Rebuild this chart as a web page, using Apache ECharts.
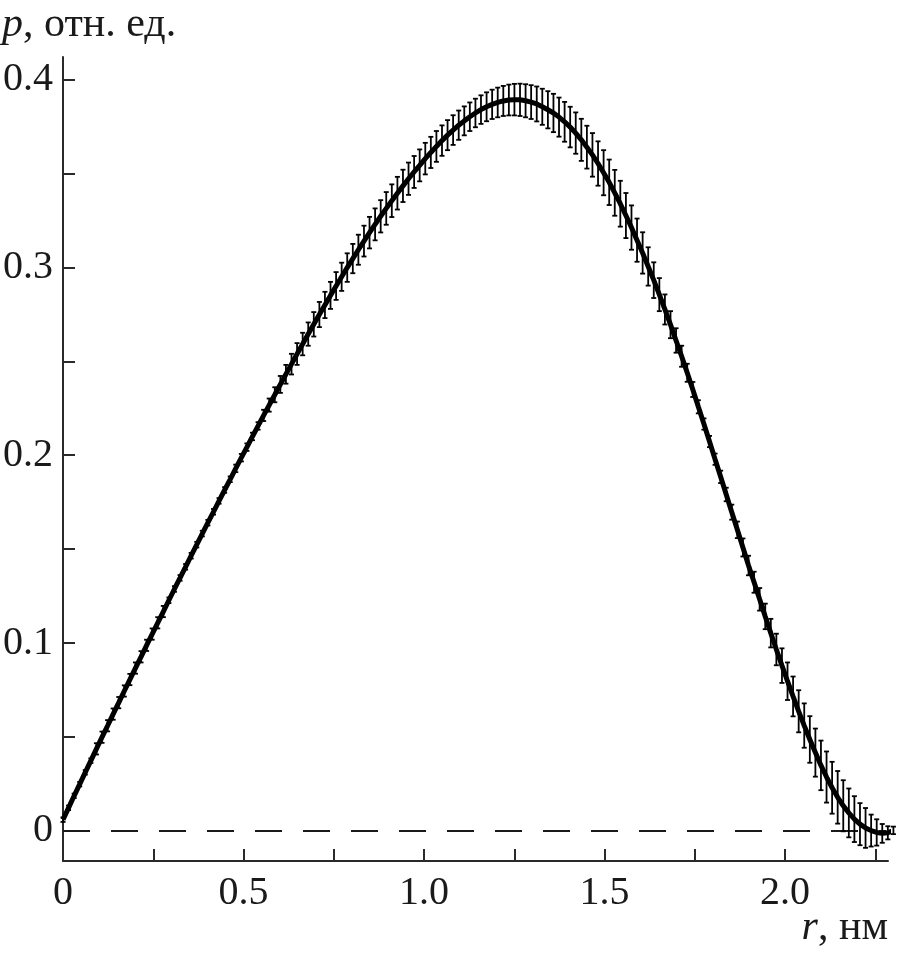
<!DOCTYPE html>
<html><head><meta charset="utf-8">
<script src="https://cdn.jsdelivr.net/npm/echarts@6/dist/echarts.min.js"></script>
<style>html,body{margin:0;padding:0;background:#fff}#c{width:920px;height:956px}</style>
</head><body><div id="c"></div>
<script>
const rVals = [0.0000,0.0154,0.0309,0.0463,0.0617,0.0772,0.0926,0.1081,0.1235,0.1389,
0.1544,0.1698,0.1852,0.2007,0.2161,0.2315,0.2470,0.2624,0.2779,0.2933,
0.3087,0.3242,0.3396,0.3550,0.3705,0.3859,0.4013,0.4168,0.4322,0.4477,
0.4631,0.4785,0.4940,0.5094,0.5248,0.5403,0.5557,0.5711,0.5866,0.6020,
0.6174,0.6329,0.6483,0.6638,0.6792,0.6946,0.7101,0.7255,0.7409,0.7564,
0.7718,0.7872,0.8027,0.8181,0.8336,0.8490,0.8644,0.8799,0.8953,0.9107,
0.9262,0.9416,0.9570,0.9725,0.9879,1.0034,1.0188,1.0342,1.0497,1.0651,
1.0805,1.0960,1.1114,1.1268,1.1423,1.1577,1.1732,1.1886,1.2040,1.2195,
1.2349,1.2503,1.2658,1.2812,1.2966,1.3121,1.3275,1.3430,1.3584,1.3738,
1.3893,1.4047,1.4201,1.4356,1.4510,1.4664,1.4819,1.4973,1.5128,1.5282,
1.5436,1.5591,1.5745,1.5899,1.6054,1.6208,1.6362,1.6517,1.6671,1.6826,
1.6980,1.7134,1.7289,1.7443,1.7597,1.7752,1.7906,1.8060,1.8215,1.8369,
1.8523,1.8678,1.8832,1.8987,1.9141,1.9295,1.9450,1.9604,1.9758,1.9913,
2.0067,2.0221,2.0376,2.0530,2.0685,2.0839,2.0993,2.1148,2.1302,2.1456,
2.1611,2.1765,2.1919,2.2074,2.2228,2.2383,2.2537,2.2691,2.2846,2.3000];

const pVals = [0.0060,0.0123,0.0187,0.0249,0.0312,0.0374,0.0437,0.0499,0.0560,0.0622,
0.0683,0.0745,0.0806,0.0867,0.0927,0.0988,0.1048,0.1108,0.1168,0.1228,
0.1288,0.1347,0.1406,0.1465,0.1524,0.1583,0.1641,0.1699,0.1757,0.1815,
0.1872,0.1930,0.1987,0.2043,0.2100,0.2156,0.2212,0.2267,0.2322,0.2377,
0.2431,0.2485,0.2539,0.2592,0.2645,0.2697,0.2749,0.2800,0.2851,0.2901,
0.2950,0.2999,0.3047,0.3094,0.3140,0.3185,0.3229,0.3272,0.3314,0.3355,
0.3395,0.3434,0.3472,0.3508,0.3543,0.3579,0.3612,0.3644,0.3675,0.3704,
0.3731,0.3757,0.3780,0.3802,0.3822,0.3840,0.3855,0.3868,0.3878,0.3886,
0.3891,0.3893,0.3892,0.3887,0.3880,0.3870,0.3855,0.3839,0.3822,0.3800,
0.3775,0.3747,0.3715,0.3679,0.3640,0.3599,0.3553,0.3504,0.3453,0.3397,
0.3339,0.3276,0.3212,0.3145,0.3077,0.3005,0.2932,0.2855,0.2776,0.2695,
0.2611,0.2527,0.2439,0.2350,0.2258,0.2166,0.2073,0.1979,0.1885,0.1791,
0.1697,0.1603,0.1509,0.1413,0.1324,0.1233,0.1142,0.1053,0.0966,0.0880,
0.0797,0.0716,0.0637,0.0561,0.0487,0.0417,0.0349,0.0287,0.0230,0.0179,
0.0134,0.0096,0.0063,0.0036,0.0016,0.0002,-0.0008,-0.0013,-0.0010,0.0003];

const errVals = [0.0012,0.0012,0.0012,0.0012,0.0012,0.0012,
0.003,0.003,0.003,0.003,0.003,0.003,0.003,0.003,0.003,0.003,0.003,0.003,0.003,
0.0015,0.0015,0.0015,0.0015,0.0015,0.0015,0.0015,0.0015,0.0015,0.0015,0.0015,0.0015,
0.002,0.002,0.002,0.002,0.002,
0.003,0.0035,0.004,0.0045,0.005,
0.0055,0.0058,0.006,0.0062,0.0065,0.0067,0.007,0.0072,0.0074,0.0075,
0.0076,0.0078,0.008,0.0082,0.0084,0.0085,0.0086,0.0087,0.0087,0.0087,
0.0086,0.0086,0.0085,0.0085,0.0084,0.0083,0.0082,0.0081,0.008,0.0079,0.0078,0.0077,0.0076,0.0076,0.0076,0.0077,0.0078,0.0079,
0.008,0.0082,0.0084,0.0086,0.0088,0.009,0.0093,0.0096,0.0099,0.0102,0.0104,0.0106,0.0108,0.011,0.0112,0.0114,0.0116,
0.0118,0.012,0.0121,0.0122,0.0122,0.012,0.0118,0.0115,
0.011,0.0102,0.0095,0.0088,0.008,0.0072,0.0065,
0.0056,0.0048,0.004,0.0035,0.003,0.003,0.003,
0.0033,0.0036,0.004,0.0044,0.0048,0.0052,0.0056,
0.006,0.0068,0.0076,0.0084,0.0092,0.01,
0.0106,0.0112,0.0118,0.0124,0.0128,0.0132,0.0136,0.0138,0.014,
0.0136,0.013,0.0122,0.0112,0.0106,
0.0085,0.007,0.005,0.0035,0.002];

const xTicks = [0.25,0.5,0.75,1.0,1.25,1.5,1.75,2.0,2.25];
const xLabels = [0,0.5,1.0,1.5,2.0];
const yTicks = [0.05,0.1,0.15,0.2,0.25,0.3,0.35,0.4];
const yLabels = [0,0.1,0.2,0.3,0.4];
const zeroLine = [[0,0],[2.28,0]];

const FONT = '"Liberation Serif","Times New Roman",serif';
const curve = rVals.map((r,i)=>[r,pVals[i]]);
const bars = rVals.map((r,i)=>[r,pVals[i]-errVals[i],pVals[i]+errVals[i]]);
const fmt = v => (Math.abs(v) < 1e-9 ? '0' : v.toFixed(1));

const chart = echarts.init(document.getElementById('c'), null, {renderer:'canvas'});
chart.setOption({
  animation:false,
  backgroundColor:'#fff',
  grid:{left:62,right:32,top:57,bottom:95,containLabel:false},
  xAxis:{type:'value',min:0,max:2.285,
    axisLine:{show:true,onZero:false,lineStyle:{color:'#2a2a2a',width:2}},
    axisTick:{show:true,inside:true,length:12,customValues:xTicks,lineStyle:{color:'#2a2a2a',width:2}},
    axisLabel:{customValues:xLabels,formatter:fmt,color:'#1a1a1a',fontFamily:FONT,fontSize:40,margin:12},
    splitLine:{show:false}},
  yAxis:{type:'value',min:-0.016,max:0.412,
    axisLine:{show:true,onZero:false,lineStyle:{color:'#2a2a2a',width:2}},
    axisTick:{show:true,inside:true,length:12,customValues:yTicks,lineStyle:{color:'#2a2a2a',width:2}},
    axisLabel:{customValues:yLabels,formatter:fmt,color:'#1a1a1a',fontFamily:FONT,fontSize:40,margin:10},
    splitLine:{show:false}},
  graphic:[
    {type:'text',left:2,top:4,style:{text:'{i|p}, отн. ед.',font:'42px '+FONT,fill:'#1a1a1a',
      rich:{i:{fontStyle:'italic',fontFamily:FONT,fontSize:42,fill:'#1a1a1a'}}}},
    {type:'text',right:32,top:907,style:{text:'{i|r}, нм',font:'42px '+FONT,fill:'#1a1a1a',
      rich:{i:{fontStyle:'italic',fontFamily:FONT,fontSize:42,fill:'#1a1a1a'}}}}
  ],
  series:[
    {type:'line',data:zeroLine,showSymbol:false,silent:true,
      lineStyle:{color:'#1a1a1a',width:2,type:[27,21]},z:1},
    {type:'custom',data:bars,encode:{x:0,y:[1,2]},z:2,silent:true,
      renderItem:function(params,api){
        const x=api.value(0),lo=api.value(1),hi=api.value(2);
        const a=api.coord([x,hi]),b=api.coord([x,lo]);
        const hw=2.5,st={stroke:'#000',lineWidth:1.8};
        return {type:'group',children:[
          {type:'line',shape:{x1:a[0],y1:a[1],x2:b[0],y2:b[1]},style:st},
          {type:'line',shape:{x1:a[0]-hw,y1:a[1],x2:a[0]+hw,y2:a[1]},style:st},
          {type:'line',shape:{x1:b[0]-hw,y1:b[1],x2:b[0]+hw,y2:b[1]},style:st}
        ]};
      }},
    {type:'line',data:curve,showSymbol:false,clip:false,silent:true,
      lineStyle:{color:'#000',width:5},z:3}
  ]
});
</script></body></html>
